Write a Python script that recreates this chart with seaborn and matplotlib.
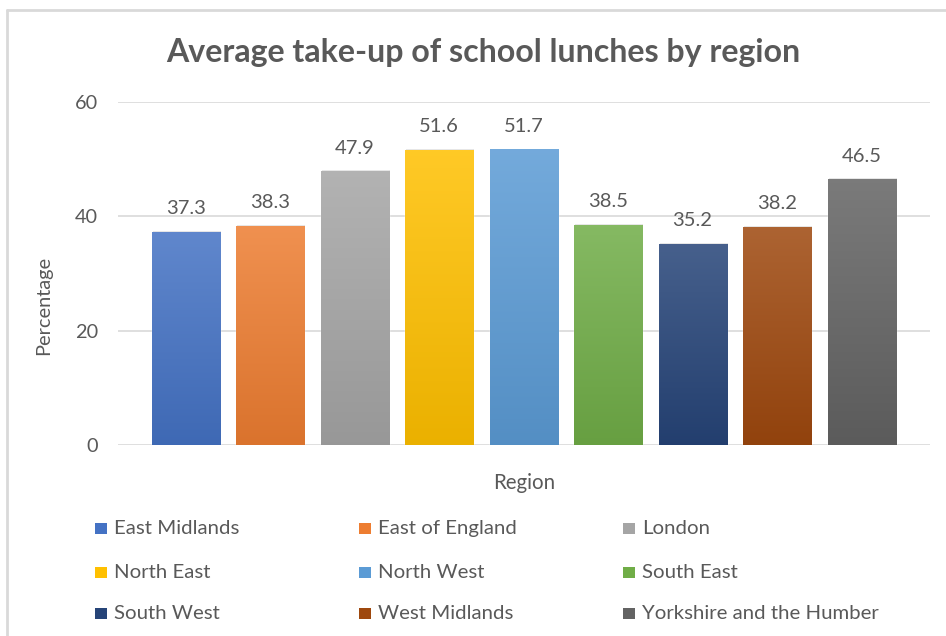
import numpy as np
import pandas as pd
import matplotlib
matplotlib.use("Agg")
import matplotlib.pyplot as plt
import matplotlib.colors as mcolors
from matplotlib.patches import Rectangle
from matplotlib.lines import Line2D
import seaborn as sns

regions = ["East Midlands", "East of England", "London", "North East", "North West",
           "South East", "South West", "West Midlands", "Yorkshire and the Humber"]
values = [37.3, 38.3, 47.9, 51.6, 51.7, 38.5, 35.2, 38.2, 46.5]
colors = ["#4472C4", "#ED7D31", "#A5A5A5", "#FFC000", "#5B9BD5",
          "#70AD47", "#264478", "#9E480E", "#636363"]
yticks = [0, 20, 40, 60]

sns.set_theme(style="white")
FONT = ["Lato", "DejaVu Sans"]
plt.rcParams["font.family"] = FONT
TXT = "#595959"

W, H = 946, 636
fig = plt.figure(figsize=(W / 100, H / 100), dpi=100)
fig.patch.set_facecolor("white")

def fx(px):
    return px / W

def fy(py):
    return 1 - py / H

ax = fig.add_axes([fx(118), fy(445), fx(930) - fx(118), fy(102) - fy(445)])

df = pd.DataFrame({"Region": regions, "Percentage": values})
pal = dict(zip(regions, colors))
sns.barplot(data=df, x="Region", y="Percentage", hue="Region", palette=pal,
            order=regions, hue_order=regions, dodge=False, legend=False,
            width=0.805, saturation=1, ax=ax, zorder=3)

ax.set_ylim(0, 60)
ax.set_xlim(-0.80, 8.81)
ax.set_yticks(yticks)
ax.set_yticklabels([str(t) for t in yticks])
ax.set_xticks([])
ax.set_xlabel("")
ax.set_ylabel("")
ax.yaxis.grid(True, color="#D9D9D9", linewidth=1.2, zorder=0)
ax.set_axisbelow(True)
for s in ax.spines.values():
    s.set_visible(False)
ax.tick_params(axis="y", length=0, pad=14.4, labelsize=14.3, labelcolor=TXT)

# gradient fill for each bar
def mix(c, other, t):
    c = np.array(mcolors.to_rgb(c))
    o = np.array(mcolors.to_rgb(other))
    return c * (1 - t) + o * t

bars = list(ax.patches)
for bar, col in zip(bars, colors):
    x0 = bar.get_x()
    w = bar.get_width()
    h = bar.get_height()
    top = mix(col, "white", 0.15)
    bot = mix(col, "black", 0.08)
    n = 256
    t = np.linspace(0, 1, n)[:, None]
    grad = (top[None, :] * (1 - t) + bot[None, :] * t)[:, None, :]
    # soft shadow
    sh = Rectangle((x0 + 0.012, 0), w, h + 0.15, facecolor="#000000", alpha=0.12,
                   edgecolor="none", zorder=2)
    ax.add_patch(sh)
    im = ax.imshow(grad, extent=[x0, x0 + w, 0, h], aspect="auto", zorder=4,
                   interpolation="bilinear")
    im.set_clip_path(bar)
    ax.annotate(f"{h:.1f}", (x0 + w / 2, h), xytext=(0, 12.7), textcoords="offset points",
                ha="center", va="baseline", fontsize=14.5, color=TXT)

ax.set_ylim(0, 60)
ax.set_xlim(-0.80, 8.81)

# titles
fig.text(fx(483), fy(62), "Average take-up of school lunches by region", ha="center",
         va="baseline", fontsize=23.1, fontweight="bold", color=TXT)
fig.text(fx(43.5), fy(305), "Percentage", rotation=90, ha="center", va="center",
         fontsize=14.4, color=TXT)
fig.text(fx(524.5), fy(483), "Region", ha="center", va="center", fontsize=14.8, color=TXT)

# legend (row-wise, 3 columns)
col_marker_x = [95, 359, 623]
row_base = [534, 578, 619]
for i, (name, col) in enumerate(zip(regions, colors)):
    r, c = divmod(i, 3)
    mx = col_marker_x[c]
    by = row_base[r]
    fig.patches.append(Rectangle((fx(mx), fy(by)), fx(11.5), 11 / H,
                                 transform=fig.transFigure, facecolor=col,
                                 edgecolor="none"))
    fig.text(fx(mx + 19), fy(by), name, ha="left", va="baseline", fontsize=14.7, color=TXT)

# outer frame (partially visible)
fig.add_artist(Line2D([fx(7), fx(7)], [0, fy(10)], transform=fig.transFigure,
                      color="#D9D9D9", linewidth=2))
fig.add_artist(Line2D([fx(7), 1], [fy(10), fy(10)], transform=fig.transFigure,
                      color="#D9D9D9", linewidth=2))

fig.savefig("out.png", dpi=100)
